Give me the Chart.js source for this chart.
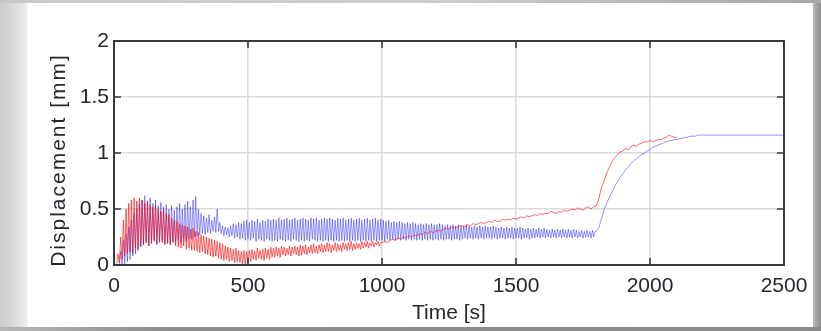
<!DOCTYPE html>
<html>
<head>
<meta charset="utf-8">
<script src="https://cdn.jsdelivr.net/npm/chart.js@4.4.1/dist/chart.umd.min.js"></script>
<style>
  html, body { margin: 0; padding: 0; background: #fff; }
  #frame {
    position: relative; width: 821px; height: 331px; overflow: hidden;
    background: linear-gradient(to right, #cdcdcd 0px, #d6d6d6 10px, #e2e2e2 20px, #eeeeee 27px, #ffffff 28px, #ffffff 813px, #bdbdbd 813px, #9a9a9a 818px, #8e8e8e 821px);
  }
  #topband { position: absolute; left: 0; top: 0; width: 821px; height: 3px;
    background: linear-gradient(to right, #c8c8c8, #cfcfcf 50%, #a8a8a8); }
  #bottomband { position: absolute; left: 0; top: 327px; width: 821px; height: 4px;
    background: linear-gradient(to right, #b8b8b8, #8c8c8c 20%, #8a8a8a); }
  canvas { position: absolute; left: 0; top: 0; }
</style>
</head>
<body>
<div id="frame">
  <div id="topband"></div>
  <div id="bottomband"></div>
  <canvas id="c" width="821" height="331"></canvas>
</div>
<script>
// Axis ticks
const xTicks = [0, 500, 1000, 1500, 2000, 2500];
const yTicks = [0, 0.5, 1, 1.5, 2];

// Red record: oscillating phase, t = 0 ... 995 s every 5 s (mm)
const redEarly = [
  0, 0, 0, 0.1, 0.02, 0.25, 0.05, 0.4, 0.08, 0.5, 0.1, 0.55, 0.12, 0.58, 0.1, 0.6, 0.15, 0.57, 0.13, 0.6,
  0.17, 0.58, 0.18, 0.55, 0.2, 0.57, 0.17, 0.54, 0.2, 0.52, 0.22, 0.53, 0.19, 0.5, 0.21, 0.48, 0.2, 0.5, 0.18, 0.46,
  0.19, 0.45, 0.18, 0.42, 0.2, 0.4, 0.17, 0.39, 0.16, 0.37, 0.15, 0.36, 0.17, 0.35, 0.14, 0.34, 0.15, 0.32, 0.13, 0.33,
  0.13, 0.3, 0.12, 0.29, 0.11, 0.27, 0.12, 0.26, 0.1, 0.25, 0.09, 0.24, 0.08, 0.23, 0.07, 0.22, 0.08, 0.21, 0.06, 0.2,
  0.05, 0.19, 0.04, 0.17, 0.05, 0.16, 0.03, 0.15, 0.04, 0.14, 0.02, 0.15, 0.03, 0.13, 0.02, 0.12, 0.01, 0.13, 0.0, 0.12,
  0.02, 0.13, 0.03, 0.14, 0.05, 0.12, 0.04, 0.15, 0.06, 0.13, 0.05, 0.14, 0.04, 0.15, 0.06, 0.14, 0.05, 0.16, 0.07, 0.15,
  0.07, 0.16, 0.08, 0.15, 0.07, 0.17, 0.09, 0.16, 0.08, 0.15, 0.09, 0.17, 0.08, 0.16, 0.1, 0.17, 0.09, 0.16, 0.08, 0.18,
  0.09, 0.17, 0.1, 0.18, 0.09, 0.16, 0.11, 0.18, 0.1, 0.19, 0.11, 0.17, 0.1, 0.18, 0.12, 0.19, 0.11, 0.18, 0.12, 0.2,
  0.12, 0.19, 0.11, 0.18, 0.13, 0.2, 0.12, 0.19, 0.13, 0.18, 0.12, 0.2, 0.14, 0.19, 0.13, 0.2, 0.14, 0.21, 0.13, 0.19,
  0.14, 0.2, 0.15, 0.19, 0.14, 0.21, 0.15, 0.2, 0.16, 0.21, 0.15, 0.2, 0.17, 0.21, 0.16, 0.2, 0.18, 0.21, 0.17, 0.2
];

// Red record: creep and jump, t = 1000 ... 2100 s every 10 s (mm)
const redLate = [
  0.2, 0.21, 0.2, 0.22, 0.23, 0.22, 0.24, 0.23, 0.25, 0.24,
  0.26, 0.25, 0.27, 0.26, 0.28, 0.27, 0.29, 0.28, 0.3, 0.29,
  0.3, 0.31, 0.3, 0.32, 0.33, 0.32, 0.34, 0.33, 0.34, 0.35,
  0.35, 0.34, 0.36, 0.35, 0.37, 0.36, 0.37, 0.38, 0.37, 0.38,
  0.39, 0.38, 0.4, 0.39, 0.39, 0.41, 0.4, 0.41, 0.4, 0.42,
  0.41, 0.42, 0.43, 0.42, 0.44, 0.43, 0.44, 0.45, 0.44, 0.46,
  0.45, 0.46, 0.46, 0.48, 0.47, 0.46, 0.48, 0.47, 0.49, 0.48,
  0.49, 0.5, 0.49, 0.51, 0.5, 0.49, 0.51, 0.52, 0.5, 0.52,
  0.53, 0.6, 0.7, 0.76, 0.83, 0.88, 0.93, 0.96, 0.99, 1.01,
  1.02, 1.04, 1.03, 1.06, 1.07, 1.06, 1.08, 1.09, 1.1, 1.1,
  1.11, 1.1, 1.11, 1.12, 1.12, 1.13, 1.14, 1.16, 1.15, 1.14,
  1.14
];

// Blue record: oscillating phase, t = 0 ... 1795 s every 5 s (mm)
const blueEarly = [
  0, 0, 0, 0, 0, 0.12, 0, 0.22, 0.01, 0.28, 0.03, 0.34, 0.05, 0.4, 0.08, 0.46, 0.1, 0.5, 0.14, 0.55,
  0.16, 0.58, 0.18, 0.62, 0.2, 0.57, 0.17, 0.6, 0.19, 0.55, 0.21, 0.58, 0.18, 0.53, 0.2, 0.56, 0.22, 0.52, 0.19, 0.54,
  0.2, 0.5, 0.18, 0.53, 0.21, 0.49, 0.2, 0.52, 0.22, 0.55, 0.2, 0.5, 0.23, 0.54, 0.21, 0.57, 0.24, 0.52, 0.23, 0.58,
  0.25, 0.61, 0.26, 0.5, 0.27, 0.46, 0.28, 0.44, 0.27, 0.42, 0.29, 0.45, 0.28, 0.4, 0.3, 0.43, 0.29, 0.5, 0.3, 0.38,
  0.28, 0.35, 0.26, 0.34, 0.27, 0.33, 0.25, 0.35, 0.26, 0.37, 0.24, 0.36, 0.25, 0.38, 0.23, 0.37, 0.24, 0.39, 0.22, 0.4,
  0.23, 0.38, 0.22, 0.4, 0.24, 0.39, 0.21, 0.41, 0.23, 0.38, 0.22, 0.4, 0.21, 0.39, 0.23, 0.41, 0.22, 0.4, 0.21, 0.41,
  0.22, 0.4, 0.21, 0.42, 0.23, 0.4, 0.22, 0.41, 0.21, 0.42, 0.22, 0.4, 0.21, 0.41, 0.23, 0.42, 0.22, 0.4, 0.21, 0.41,
  0.22, 0.42, 0.21, 0.41, 0.22, 0.4, 0.21, 0.42, 0.23, 0.41, 0.22, 0.42, 0.21, 0.4, 0.22, 0.41, 0.21, 0.42, 0.22, 0.41,
  0.21, 0.42, 0.22, 0.41, 0.21, 0.4, 0.22, 0.42, 0.21, 0.41, 0.22, 0.42, 0.21, 0.4, 0.22, 0.41, 0.21, 0.42, 0.22, 0.4,
  0.21, 0.41, 0.22, 0.42, 0.21, 0.4, 0.22, 0.41, 0.21, 0.42, 0.22, 0.4, 0.21, 0.41, 0.22, 0.42, 0.21, 0.4, 0.22, 0.41,
  0.22, 0.4, 0.21, 0.39, 0.23, 0.4, 0.22, 0.38, 0.23, 0.39, 0.22, 0.38, 0.23, 0.39, 0.22, 0.38, 0.23, 0.37, 0.22, 0.38,
  0.23, 0.37, 0.22, 0.38, 0.23, 0.37, 0.22, 0.36, 0.23, 0.37, 0.22, 0.36, 0.23, 0.37, 0.22, 0.36, 0.23, 0.37, 0.22, 0.36,
  0.23, 0.36, 0.22, 0.37, 0.23, 0.36, 0.22, 0.35, 0.23, 0.36, 0.23, 0.35, 0.22, 0.36, 0.23, 0.35, 0.23, 0.36, 0.22, 0.35,
  0.23, 0.35, 0.24, 0.36, 0.23, 0.35, 0.24, 0.34, 0.23, 0.35, 0.24, 0.34, 0.23, 0.35, 0.24, 0.34, 0.23, 0.35, 0.24, 0.34,
  0.24, 0.34, 0.23, 0.35, 0.24, 0.34, 0.23, 0.33, 0.24, 0.34, 0.24, 0.33, 0.23, 0.34, 0.24, 0.33, 0.24, 0.34, 0.23, 0.33,
  0.24, 0.33, 0.24, 0.34, 0.23, 0.33, 0.24, 0.32, 0.24, 0.33, 0.23, 0.32, 0.24, 0.33, 0.24, 0.32, 0.25, 0.33, 0.24, 0.32,
  0.25, 0.33, 0.24, 0.32, 0.25, 0.31, 0.24, 0.32, 0.25, 0.31, 0.24, 0.32, 0.25, 0.31, 0.24, 0.32, 0.25, 0.31, 0.24, 0.32,
  0.25, 0.31, 0.24, 0.32, 0.25, 0.31, 0.24, 0.3, 0.25, 0.31, 0.24, 0.3, 0.25, 0.31, 0.25, 0.3, 0.24, 0.31, 0.25, 0.3
];

// Blue record: rise and plateau, t = 1800 ... 2500 s every 10 s (mm)
const blueLate = [
  0.3, 0.34, 0.42, 0.5, 0.56, 0.61, 0.66, 0.71, 0.75, 0.79,
  0.82, 0.85, 0.88, 0.91, 0.93, 0.95, 0.97, 0.99, 1.0, 1.02,
  1.03, 1.05, 1.06, 1.07, 1.08, 1.09, 1.1, 1.11, 1.11, 1.12,
  1.12, 1.13, 1.13, 1.14, 1.14, 1.15, 1.15, 1.15, 1.16, 1.16,
  1.16, 1.16, 1.16, 1.16, 1.16, 1.16, 1.16, 1.16, 1.16, 1.16,
  1.16, 1.16, 1.16, 1.16, 1.16, 1.16, 1.16, 1.16, 1.16, 1.16,
  1.16, 1.16, 1.16, 1.16, 1.16, 1.16, 1.16, 1.16, 1.16, 1.16,
  1.16
];

// Pair a block of samples with its time stamps
const block = (vals, t0, dt) => vals.map((v, i) => ({ x: t0 + i * dt, y: v }));
const redPoints = block(redEarly, 0, 5).concat(block(redLate, 1000, 10));
const bluePoints = block(blueEarly, 0, 5).concat(block(blueLate, 1800, 10));

const FONT = '"Liberation Sans", Arial, Helvetica, sans-serif';
const TEXT = '#26262e';
const AXIS = '#3a3a3a';

// Closed axis box with inward tick marks on all four sides, plus the rotated y title
const boxAxes = {
  id: 'boxAxes',
  afterDatasetsDraw(chart) {
    const { ctx, chartArea: a, scales: { x, y } } = chart;
    ctx.save();
    ctx.strokeStyle = AXIS;
    ctx.lineWidth = 2;
    ctx.strokeRect(a.left, a.top, a.right - a.left, a.bottom - a.top);
    ctx.lineWidth = 1.6;
    ctx.beginPath();
    xTicks.forEach(v => {
      const px = x.getPixelForValue(v);
      ctx.moveTo(px, a.bottom); ctx.lineTo(px, a.bottom - 7);
      ctx.moveTo(px, a.top); ctx.lineTo(px, a.top + 7);
    });
    yTicks.forEach(v => {
      const py = y.getPixelForValue(v);
      ctx.moveTo(a.left, py); ctx.lineTo(a.left + 7, py);
      ctx.moveTo(a.right, py); ctx.lineTo(a.right - 7, py);
    });
    ctx.stroke();

    ctx.translate(59, 160);
    ctx.rotate(-Math.PI / 2);
    ctx.font = '21px ' + FONT;
    ctx.letterSpacing = '2px';
    ctx.fillStyle = TEXT;
    ctx.textAlign = 'center';
    ctx.textBaseline = 'middle';
    ctx.fillText('Displacement [mm]', 0, 0);
    ctx.restore();
  }
};

new Chart(document.getElementById('c'), {
  type: 'line',
  data: {
    datasets: [
      { data: redPoints, borderColor: 'rgba(255,0,0,0.6)', borderWidth: 1, order: 0 },
      { data: bluePoints, borderColor: 'rgba(0,0,255,0.42)', borderWidth: 1, order: 1 }
    ]
  },
  options: {
    responsive: false,
    animation: false,
    devicePixelRatio: 1,
    layout: { padding: { left: 0, right: 37, top: 41, bottom: 0 } },
    plugins: { legend: { display: false }, tooltip: { enabled: false } },
    elements: { point: { radius: 0 }, line: { tension: 0 } },
    scales: {
      x: {
        type: 'linear', min: 0, max: 2500,
        afterBuildTicks: s => { s.ticks = xTicks.map(v => ({ value: v })); },
        afterFit: s => { s.height = 66; },
        ticks: { font: { family: FONT, size: 21 }, color: TEXT, padding: 9, maxRotation: 0, autoSkip: false,
                 callback: v => String(v) },
        grid: { color: '#dadada', lineWidth: 1.5, drawTicks: false },
        border: { display: false },
        title: { display: true, text: 'Time [s]', color: TEXT, font: { family: FONT, size: 21 },
                 padding: { top: 0, bottom: 5 } }
      },
      y: {
        min: 0, max: 2,
        afterBuildTicks: s => { s.ticks = yTicks.map(v => ({ value: v })); },
        afterFit: s => { s.width = 114; },
        ticks: { font: { family: FONT, size: 21 }, color: TEXT, padding: 5, autoSkip: false,
                 callback: v => String(v) },
        grid: { color: '#dadada', lineWidth: 1.5, drawTicks: false },
        border: { display: false }
      }
    }
  },
  plugins: [boxAxes]
});
</script>
</body>
</html>
